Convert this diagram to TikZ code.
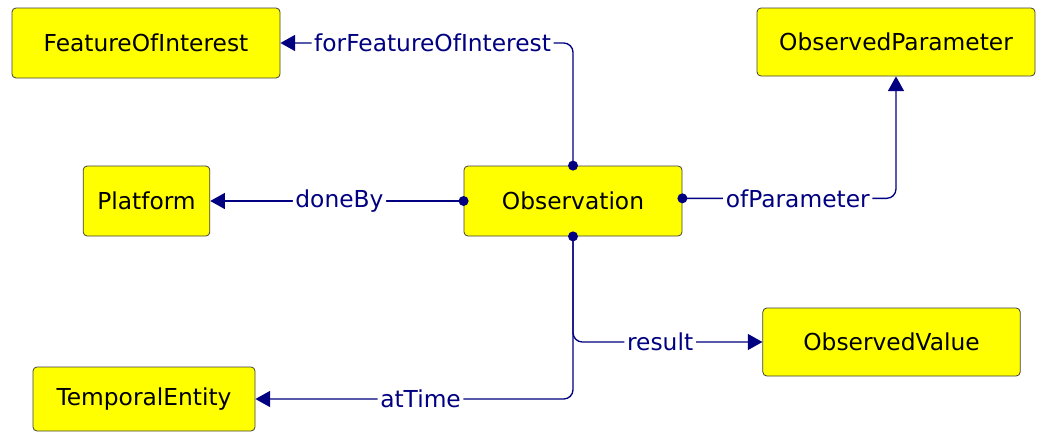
\documentclass[tikz,border=0pt]{standalone}
\usepackage{fontspec}
\setmainfont{DejaVu Sans}
\usetikzlibrary{arrows.meta}
\definecolor{linkblue}{RGB}{0,0,128}
\definecolor{classyellow}{RGB}{255,255,0}
\tikzstyle{Class}=[shape=rectangle, rounded corners=3pt, fill=classyellow, line width = 0.6pt, draw=black!75, text=black, font=\fontsize{17.5}{20}\selectfont]
\tikzstyle{Dot}=[shape=circle, fill=linkblue, inner sep=0pt, minimum size=7.5pt]
\tikzstyle{Property}=[fill=white, text=linkblue, inner sep=2pt, font=\fontsize{17.5}{20}\selectfont]
\tikzstyle{arrow}=[line width = 1pt, draw=linkblue, rounded corners=7pt, >={Triangle[length=11pt, width=12pt]}]
\pgfdeclarelayer{nodelayer}
\pgfdeclarelayer{edgelayer}
\pgfsetlayers{nodelayer, edgelayer, main}
\begin{document}
\begin{tikzpicture}[x=0.75pt, y=-0.75pt]
	\useasboundingbox (0,0) rectangle (1046,432);
	\begin{pgfonlayer}{nodelayer}
		% classes
		\node [style=Class, minimum width=201pt, minimum height=52.5pt] (foi) at (146, 43) {FeatureOfInterest};
		\node [style=Class, minimum width=208.5pt, minimum height=51pt] (parameter) at (896, 42) {ObservedParameter};
		\node [style=Class, minimum width=95pt, minimum height=52.5pt] (platform) at (146.5, 201) {Platform};
		\node [style=Class, minimum width=163.5pt, minimum height=52.5pt] (observation) at (573, 201) {Observation};
		\node [style=Class, minimum width=193pt, minimum height=51pt] (value) at (891.5, 342) {ObservedValue};
		\node [style=Class, minimum width=166.5pt, minimum height=48pt] (time) at (144, 399) {TemporalEntity};
	\end{pgfonlayer}
	\begin{pgfonlayer}{edgelayer}
		% properties
		\draw [->, style=arrow] (observation.north) |- node[style=Property, pos=0.74] {forFeatureOfInterest} (foi.east);
		\draw [->, style=arrow] (observation.west) to node[style=Property, pos=0.49] {doneBy} (platform.east);
		\draw [->, style=arrow] ([yshift=2pt]observation.east) -| node[style=Property, pos=0.27] {ofParameter} (parameter.south);
		\draw [->, style=arrow] (observation.south) |- node[style=Property, pos=0.73] {result} (value.west);
		\draw [->, style=arrow] (observation.south) |- node[style=Property, pos=0.74] {atTime} (time.east);

		% domain dots
		\node [style=Dot] (dot_top) at (observation.north) {};
		\node [style=Dot] (dot_left) at (observation.west) {};
		\node [style=Dot] (dot_right) at ([yshift=2pt]observation.east) {};
		\node [style=Dot] (dot_bottom) at (observation.south) {};
	\end{pgfonlayer}
\end{tikzpicture}
\end{document}
